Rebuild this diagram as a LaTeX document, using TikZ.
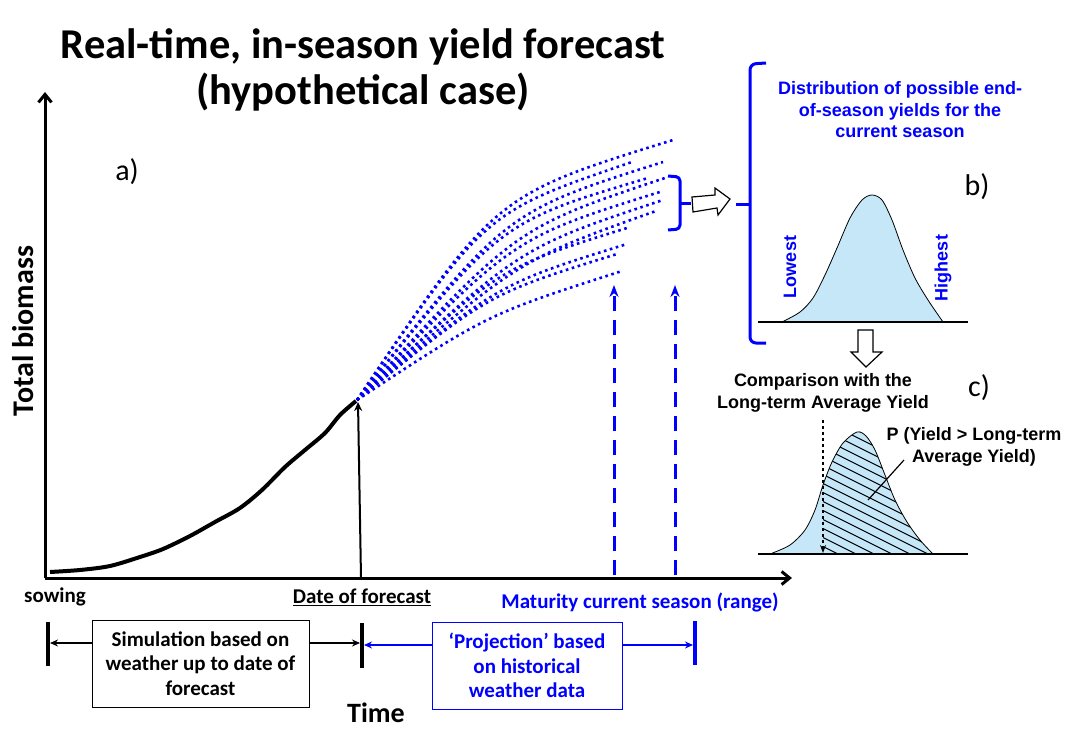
\documentclass[tikz,border=0pt]{standalone}
\usepackage{fontspec}
\setmainfont{Carlito}
\newfontfamily\arialfont{Liberation Sans}
\usepackage{tikz}
\usetikzlibrary{arrows.meta,positioning}
\definecolor{fcblue}{HTML}{0000FF}
\definecolor{fclight}{HTML}{C6E7F8}

\begin{document}
\begin{tikzpicture}[x=1pt, y=-1pt,
    lbl/.style={font=\fontsize{21}{24.5}\selectfont\bfseries, align=center},
    side/.style={font=\arialfont\fontsize{18}{21.5}\selectfont\bfseries, align=center},
    tag/.style={font=\fontsize{30}{36}\selectfont},
    axis/.style={-{Straight Barb[length=8pt, width=13pt]}, line width=3pt},
    proj/.style={fcblue, line width=2.6pt, dash pattern=on 2.6pt off 3.6pt},
    mat/.style={fcblue, line width=3pt, dash pattern=on 15pt off 9pt,
                -{Stealth[length=12pt, width=9pt]}},
    bar/.style={line width=4.5pt},
    arr/.style={-{Stealth[length=8pt, width=7pt]}, line width=2.5pt},
    span/.style={draw, line width=1pt, minimum height=87pt, inner sep=2pt, lbl},
    dist/.style={draw, line width=0.8pt, fill=fclight},
    hollow/.style={draw, line width=1.2pt, fill=white, line join=miter},
  ]
  \useasboundingbox (0,0) rectangle (1072,755);

  \node[font=\fontsize{42.5}{46}\selectfont\bfseries, align=center] (title) at (363,70)
       {Real-time, in-season yield forecast\\(hypothetical case)};

  \coordinate (O) at (45,578);
  \coordinate (ytop) at (45,92);
  \coordinate (xend) at (792,578);
  \draw[axis] (O) -- (ytop);
  \draw[axis] (O) -- (xend);
  \node[font=\fontsize{30}{34}\selectfont\bfseries, rotate=90] (ylbl) at (23,331) {Total biomass};
  \node[tag] (taga) at (127,172) {a)};

  \draw[line width=4pt, line join=round] plot[smooth, tension=0.5] coordinates
       {(50,572) (80,570) (110,566) (140,557) (163,549) (190,536) (215,522)
        (240,508) (262,490) (285,467) (305,450) (325,433) (340,415) (356,401)};
  \coordinate (fc) at (357,400);
  \coordinate (fcbase) at (361,578);
  \draw[-{Stealth[length=9pt, width=8pt]}, line width=2pt] (fcbase) -- (358,402);

  \foreach \ex/\ey/\cx/\cy in {673/140/495/195, 632/162/485/212, 663/162/505/212,
      648/178/500/222, 665/178/515/228, 663/191/512/238, 663/200/518/248,
      656/211/518/260, 627/228/498/268, 627/244/498/284, 617/254/488/294,
      622/271/488/314}
    \draw[proj] (fc) .. controls (\cx,\cy) .. (\ex,\ey);

  \coordinate (mlo) at (614,285);
  \coordinate (mhi) at (675,285);
  \draw[mat] (614,575) -- (mlo);
  \draw[mat] (675,575) -- (mhi);

  \draw[fcblue, line width=3pt, rounded corners=4pt] (668,176) -- (680,177) -- (680,229) -- (668,230);
  \draw[fcblue, line width=3pt] (680,203) -- (691,203);
  \draw[hollow] (692,197) -- (715,195) -- (715,188) -- (730,199) -- (718,215) -- (717,208)
       -- (693,212) -- cycle;
  \draw[fcblue, line width=3pt, rounded corners=6pt] (766,63) -- (750,64) -- (750,204)
       -- (750,343) -- (766,343);
  \draw[fcblue, line width=3pt] (736,204) -- (750,204);

  \node[side, text=fcblue] (distlbl) at (900,110)
       {Distribution of possible end-\\of-season yields for the\\current season};
  \node[tag] (tagb) at (977,187) {b)};

  \draw[dist] plot[smooth] coordinates
       {(782,322) (800,312) (813,298) (825,275) (837,248) (850,218) (862,200)
        (872,195) (882,200) (892,220) (903,250) (915,278) (928,300) (943,322)};
  \draw[line width=2.5pt] (758,322) -- (968,322);
  \node[side, text=fcblue, rotate=90] (low) at (790,267) {Lowest};
  \node[side, text=fcblue, rotate=90] (high) at (943,268) {Highest};

  \draw[hollow] (858,330) -- (873,330) -- (873,352) -- (882,352) -- (866,367) -- (851,352)
       -- (858,352) -- cycle;

  \node[side] (cmp) at (823,393) {Comparison with the\\Long-term Average Yield};
  \node[tag] (tagc) at (979,388) {c)};

  \fill[fclight] plot[smooth] coordinates
       {(770,554) (790,545) (805,530) (815,510) (823,485) (832,462) (843,443)
        (857,432) (866,436) (875,450) (885,475) (895,500) (907,522) (920,540) (933,554)} -- cycle;
  \begin{scope}
    \clip (823,400) rectangle (970,554);
    \clip plot[smooth] coordinates
       {(770,554) (790,545) (805,530) (815,510) (823,485) (832,462) (843,443)
        (857,432) (866,436) (875,450) (885,475) (895,500) (907,522) (920,540) (933,554)} -- cycle;
    \foreach \k in {0,...,22}
      \draw[line width=0.9pt] (780,345+9*\k) -- ++(220,110);
  \end{scope}
  \draw[line width=0.8pt] plot[smooth] coordinates
       {(770,554) (790,545) (805,530) (815,510) (823,485) (832,462) (843,443)
        (857,432) (866,436) (875,450) (885,475) (895,500) (907,522) (920,540) (933,554)};
  \draw[line width=2.5pt] (758,554) -- (968,554);
  \coordinate (lta) at (823,420);
  \draw[dashed, line width=1.2pt, -{Stealth[length=8pt, width=6pt]}] (lta) -- (823,553);

  \node[side] (prob) at (974,447) {P (Yield > Long-term\\Average Yield)};
  \coordinate (lead) at (868,500);
  \draw[line width=1.2pt] (904,460) -- (lead);

  \node[lbl] (sow) at (55,597) {sowing};
  \node[lbl] (date) at (362,597) {\underline{Date of forecast}};
  \node[lbl, text=fcblue] (matlbl) at (640,602) {Maturity current season (range)};

  \draw[bar] (48,622) -- (48,666);
  \draw[bar] (362,623) -- (362,668);
  \draw[bar, fcblue] (695,621) -- (695,665);
  \coordinate (bsow) at (50,643);
  \coordinate (bfcl) at (360,643);
  \coordinate (bfcr) at (364,645);
  \coordinate (bmat) at (693,645);

  \node[span, minimum width=217pt] (sim) at (200.5,663.5)
       {Simulation based on\\weather up to date of\\forecast};
  \node[span, draw=fcblue, text=fcblue, minimum width=190pt] (projbox) at (527,665.5)
       {`Projection' based\\on historical\\weather data};
  \draw[arr] (sim.west |- bsow) -- (bsow);
  \draw[arr] (sim.east |- bfcl) -- (bfcl);
  \draw[arr, fcblue] (projbox.west |- bfcr) -- (bfcr);
  \draw[arr, fcblue] (projbox.east |- bmat) -- (bmat);

  \node[font=\fontsize{28}{33}\selectfont\bfseries] (time) at (376,713) {Time};
\end{tikzpicture}
\end{document}
